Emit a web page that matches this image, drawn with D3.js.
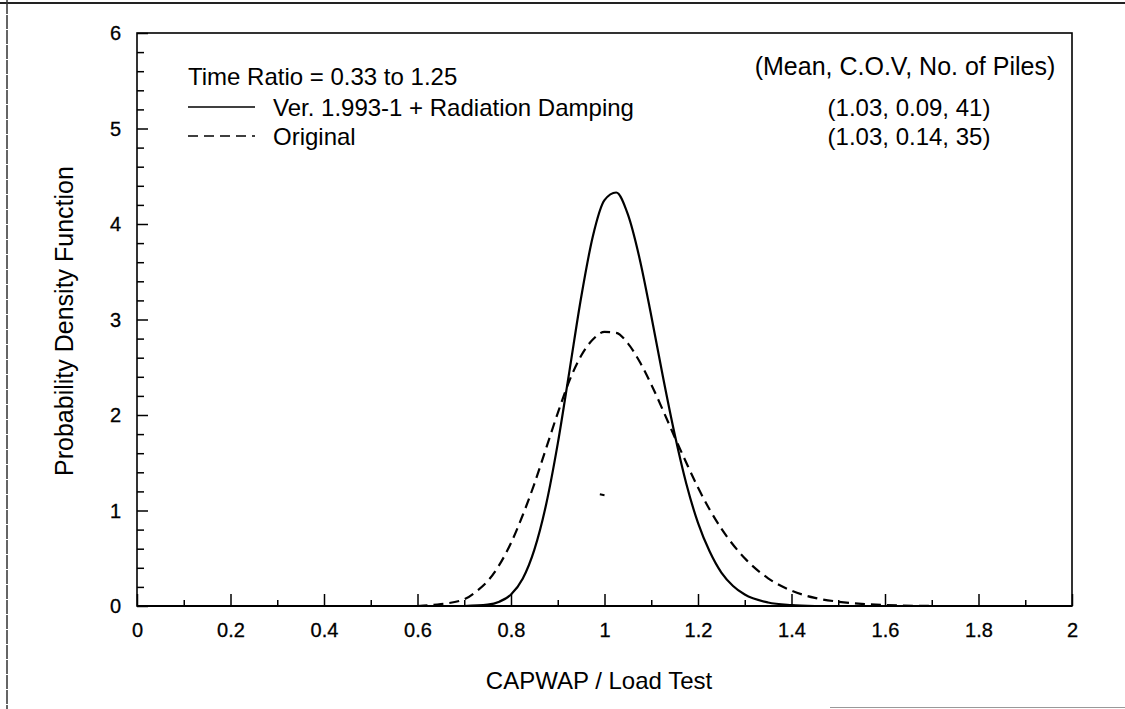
<!DOCTYPE html>
<html>
<head>
<meta charset="utf-8">
<script src="https://cdn.jsdelivr.net/npm/d3@7"></script>
<style>
  body { margin: 0; background: #fff; }
  svg { display: block; font-family: "Liberation Sans", Arial, Helvetica, sans-serif; }
</style>
</head>
<body>
<svg id="chart" width="1125" height="709"></svg>
<script>
// values
var xTickValues = [0, 0.2, 0.4, 0.6, 0.8, 1, 1.2, 1.4, 1.6, 1.8, 2];
var xTickLabels = ["0", "0.2", "0.4", "0.6", "0.8", "1", "1.2", "1.4", "1.6", "1.8", "2"];
var yTickValues = [0, 1, 2, 3, 4, 5, 6];

// Ver. 1.993-1 + Radiation Damping (solid)
var solidX = [0.70, 0.75, 0.775, 0.80, 0.825, 0.85, 0.875, 0.90, 0.925, 0.95, 0.975, 1.00, 1.025, 1.05, 1.075, 1.10, 1.125, 1.15, 1.175, 1.20, 1.225, 1.25, 1.275, 1.30, 1.35, 1.40, 1.45];
var solidY = [0.00, 0.014, 0.045, 0.12, 0.285, 0.59, 1.06, 1.70, 2.46, 3.23, 3.87, 4.25, 4.33, 4.10, 3.64, 3.04, 2.40, 1.80, 1.28, 0.87, 0.57, 0.35, 0.21, 0.12, 0.037, 0.01, 0.00];

// Original (dashed)
var dashX = [0.60, 0.65, 0.70, 0.725, 0.75, 0.775, 0.80, 0.825, 0.85, 0.875, 0.90, 0.925, 0.95, 0.975, 1.00, 1.025, 1.05, 1.075, 1.10, 1.125, 1.15, 1.175, 1.20, 1.25, 1.30, 1.35, 1.40, 1.45, 1.50, 1.55, 1.60, 1.70];
var dashY = [0.00, 0.02, 0.07, 0.15, 0.26, 0.43, 0.66, 0.95, 1.28, 1.65, 2.02, 2.36, 2.62, 2.79, 2.87, 2.86, 2.75, 2.56, 2.32, 2.05, 1.77, 1.50, 1.24, 0.81, 0.50, 0.29, 0.16, 0.085, 0.045, 0.022, 0.01, 0.00];

var headerLeft = "Time Ratio = 0.33 to 1.25";
var legendNames = ["Ver. 1.993-1 + Radiation Damping", "Original"];
var statsHeader = "(Mean, C.O.V, No. of Piles)";
var statsRows = ["(1.03, 0.09, 41)", "(1.03, 0.14, 35)"];

var svg = d3.select("#chart");
var margin = {left: 137, right: 1072, top: 33, bottom: 606};

var x = d3.scaleLinear().domain([0, 2]).range([margin.left, margin.right]);
var y = d3.scaleLinear().domain([0, 6]).range([margin.bottom, margin.top]);

// page border from the scan
svg.append("line").attr("x1", 0).attr("x2", 1125).attr("y1", 3).attr("y2", 3)
    .attr("stroke", "#222").attr("stroke-width", 2);
svg.append("line").attr("x1", 7).attr("x2", 7).attr("y1", 0).attr("y2", 709)
    .attr("stroke", "#333").attr("stroke-width", 1.5).attr("stroke-dasharray", "14 1");
svg.append("line").attr("x1", 830).attr("x2", 1125).attr("y1", 707.5).attr("y2", 707.5)
    .attr("stroke", "#999").attr("stroke-width", 1);

// x axis (ticks point inward)
var xAxis = d3.axisBottom(x)
    .tickValues(d3.range(0, 21).map(function(i) { return i / 10; }))
    .tickSize(0)
    .tickFormat("");
var gx = svg.append("g").attr("transform", "translate(0," + margin.bottom + ")").call(xAxis);
gx.select(".domain").remove();
gx.selectAll(".tick").append("line")
    .attr("y2", function(d, i) { return i % 2 === 0 ? -12 : -6; })
    .attr("stroke", "#000").attr("stroke-width", 1.5);
gx.selectAll(".tick text").remove();
gx.selectAll(".tick").filter(function(d, i) { return i % 2 === 0; })
    .append("text")
    .attr("y", 31)
    .attr("text-anchor", "middle")
    .attr("font-size", 20)
    .attr("fill", "#000")
    .attr("stroke", "#000").attr("stroke-width", 0.3)
    .text(function(d, i) { return xTickLabels[i]; });

// y axis
var yAxis = d3.axisLeft(y)
    .tickValues(d3.range(0, 31).map(function(i) { return i / 5; }))
    .tickSize(0)
    .tickFormat("");
var gy = svg.append("g").attr("transform", "translate(" + margin.left + ",0)").call(yAxis);
gy.select(".domain").remove();
gy.selectAll(".tick").append("line")
    .attr("x2", function(d, i) { return i % 5 === 0 ? 11 : 7; })
    .attr("stroke", "#000").attr("stroke-width", 1.5);
gy.selectAll(".tick text").remove();
svg.append("g").selectAll("text")
    .data(yTickValues)
    .enter().append("text")
    .attr("x", 121)
    .attr("y", function(d) { return y(d) + 7; })
    .attr("text-anchor", "end")
    .attr("font-size", 20)
    .attr("stroke", "#000").attr("stroke-width", 0.3)
    .text(function(d) { return d; });

// frame
svg.append("rect")
    .attr("x", margin.left).attr("y", margin.top)
    .attr("width", margin.right - margin.left).attr("height", margin.bottom - margin.top)
    .attr("fill", "none").attr("stroke", "#000").attr("stroke-width", 1.6);
svg.append("line")
    .attr("x1", margin.left).attr("x2", margin.right)
    .attr("y1", y(0)).attr("y2", y(0))
    .attr("stroke", "#000").attr("stroke-width", 2.2);

// curves
var line = d3.line()
    .x(function(d) { return x(d[0]); })
    .y(function(d) { return y(d[1]); })
    .curve(d3.curveMonotoneX);

svg.append("path")
    .datum(d3.zip(dashX, dashY))
    .attr("d", line)
    .attr("fill", "none").attr("stroke", "#000").attr("stroke-width", 2.2)
    .attr("stroke-dasharray", "10 6");

svg.append("path")
    .datum(d3.zip(solidX, solidY))
    .attr("d", line)
    .attr("fill", "none").attr("stroke", "#000").attr("stroke-width", 2.2);

// stray mark in the scan
svg.append("line")
    .attr("x1", x(0.99)).attr("x2", x(1.0))
    .attr("y1", y(1.17)).attr("y2", y(1.16))
    .attr("stroke", "#000").attr("stroke-width", 2);

// legend / annotation block
var fs = 24;
svg.append("text").attr("x", 188).attr("y", 85).attr("font-size", fs).text(headerLeft);

var legendRows = svg.append("g").selectAll("g")
    .data(legendNames)
    .enter().append("g")
    .attr("transform", function(d, i) { return "translate(0," + (116 + i * 29) + ")"; });
legendRows.append("line")
    .attr("x1", 188).attr("x2", 255)
    .attr("y1", -9).attr("y2", -9)
    .attr("stroke", "#000").attr("stroke-width", 1.6)
    .attr("stroke-dasharray", function(d, i) { return i === 0 ? null : "10 6"; });
legendRows.append("text")
    .attr("x", 273).attr("font-size", fs)
    .text(function(d) { return d; });

svg.append("text").attr("x", 905).attr("y", 75).attr("text-anchor", "middle")
    .attr("font-size", 25).text(statsHeader);
svg.append("g").selectAll("text")
    .data(statsRows)
    .enter().append("text")
    .attr("x", 909)
    .attr("y", function(d, i) { return 116 + i * 29; })
    .attr("text-anchor", "middle")
    .attr("font-size", fs)
    .text(function(d) { return d; });

// axis titles
svg.append("text")
    .attr("x", 599).attr("y", 689)
    .attr("text-anchor", "middle").attr("font-size", 24)
    .text("CAPWAP / Load Test");
svg.append("text")
    .attr("transform", "translate(73,321) rotate(-90)")
    .attr("text-anchor", "middle").attr("font-size", 25)
    .text("Probability Density Function");
</script>
</body>
</html>
